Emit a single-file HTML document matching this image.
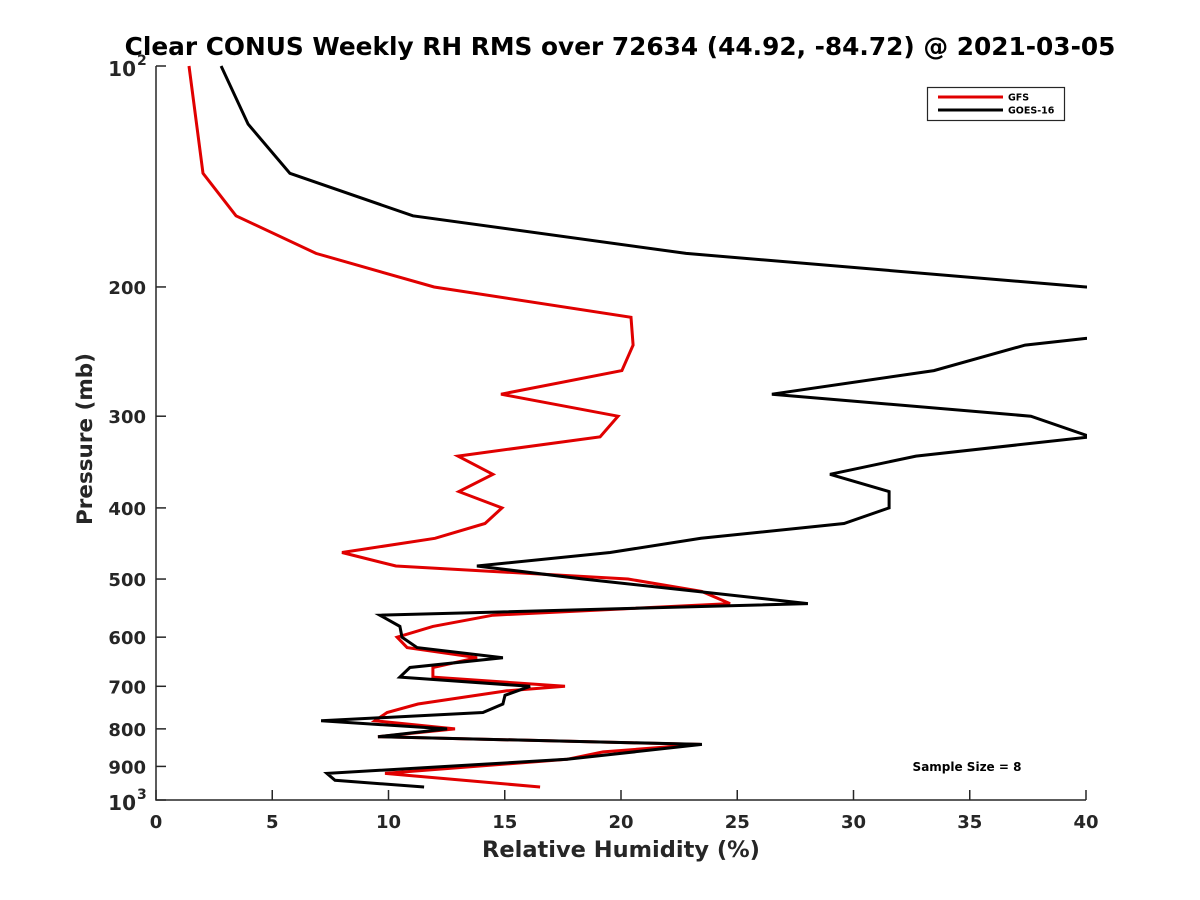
<!DOCTYPE html>
<html><head><meta charset="utf-8"><style>
body{margin:0;background:#fff}
svg{display:block;font-family:"DejaVu Sans","Liberation Sans",sans-serif;font-weight:bold}
</style></head><body>
<svg id="chart" width="1200" height="900" viewBox="0 0 1200 900">
<rect width="1200" height="900" fill="#fff"/>
<defs><clipPath id="plotclip"><rect x="156" y="60" width="931" height="742"/></clipPath></defs>
<text x="620" y="55" font-size="24.8" text-anchor="middle" fill="#000">Clear CONUS Weekly RH RMS over 72634 (44.92, -84.72) @ 2021-03-05</text>
<g id="axes"></g>
<g id="series" clip-path="url(#plotclip)"></g>
<text x="621" y="857" font-size="22.5" text-anchor="middle" fill="#262626">Relative Humidity (%)</text>
<text transform="translate(92,439) rotate(-90)" font-size="21.5" text-anchor="middle" fill="#262626">Pressure (mb)</text>
<g>
<rect x="927.5" y="87.5" width="137" height="33" fill="#fff" stroke="#262626" stroke-width="1.2"/>
<line x1="938" y1="97" x2="1003" y2="97" stroke="#e00000" stroke-width="3"/>
<text x="1008" y="100.5" font-size="9.5" fill="#000">GFS</text>
<line x1="938" y1="110" x2="1003" y2="110" stroke="#000" stroke-width="3"/>
<text x="1008" y="113.5" font-size="9.5" fill="#000">GOES-16</text>
</g>
<text x="967" y="771" font-size="12" text-anchor="middle" fill="#000">Sample Size = 8</text>
</svg>
<script>
const gfsPressure = [100,140,160,180,200,220,240,260,280,300,320,340,360,380,400,420,440,460,480,500,520,540,560,580,600,620,640,660,680,700,710,740,760,780,800,820,840,860,880,920,960];
const gfsRH = [1.42,2.02,3.44,6.88,11.96,20.43,20.52,20.04,14.84,19.87,19.1,12.99,14.49,13.03,14.88,14.15,12.0,8.0,10.32,20.3,23.48,24.69,14.49,11.91,10.37,10.8,13.81,11.91,11.91,17.59,15.1,11.27,9.94,9.42,12.86,9.55,23.4,19.23,17.68,9.85,16.52];
const goesPressure = [100,120,140,160,180,200,216,235,240,260,280,300,320,340,360,380,400,420,440,460,480,500,520,540,560,580,600,620,640,660,680,700,720,740,760,780,800,820,840,880,920,940,960];
const goesRH = [2.8,3.96,5.76,11.05,22.8,40,60,40,37.38,33.46,26.49,37.63,40.2,32.69,28.99,31.53,31.53,29.59,23.44,19.53,13.8,18.37,23.31,28.04,9.63,10.49,10.58,11.23,14.92,10.92,10.49,16.09,15.01,14.92,14.06,7.1,12.52,9.55,23.48,17.68,7.35,7.7,11.53];
const xTicks = [0,5,10,15,20,25,30,35,40];
const yTicks = [100,200,300,400,500,600,700,800,900,1000];
const yTickLabels = ["10^2","200","300","400","500","600","700","800","900","10^3"];

const X0=156,X1=1086,Y0=66,Y1=800;
const xs = v => X0 + (v/40)*(X1-X0);
const ys = p => Y0 + (Y1-Y0)*Math.log10(p/100);
const NS="http://www.w3.org/2000/svg";
const axes=document.getElementById('axes');
function mk(tag,attrs,parent){const e=document.createElementNS(NS,tag);for(const k in attrs)e.setAttribute(k,attrs[k]);parent.appendChild(e);return e;}
const ax=mk('path',{d:`M${X0},${Y0}V${Y1}H${X1}`,fill:'none',stroke:'#262626','stroke-width':1.5},axes);


xTicks.forEach(v=>{
  const t=mk('line',{x1:xs(v),x2:xs(v),y1:Y1,y2:Y1-10,stroke:'#262626','stroke-width':1.5},axes);
  
  
  const l=mk('text',{x:xs(v),y:Y1+28,'font-size':18,'text-anchor':'middle',fill:'#262626'},axes);
  l.textContent=String(v);
  
  
});
yTicks.forEach((p,i)=>{
  const t=mk('line',{x1:X0,x2:X0+10,y1:ys(p),y2:ys(p),stroke:'#262626','stroke-width':1.5},axes);
  
  
  const lab=yTickLabels[i];
  if(lab.indexOf('^')>=0){
    const parts=lab.split('^');
    const l=mk('text',{x:X0-20,y:ys(p)+10,'font-size':20,'text-anchor':'end',fill:'#262626'},axes);
    l.textContent=parts[0];
    
    
    const s=mk('text',{x:X0-19,y:ys(p)-1,'font-size':14,'text-anchor':'start',fill:'#262626'},axes);
    s.textContent=parts[1];
    
    
  } else {
    const l=mk('text',{x:X0-10,y:ys(p)+7,'font-size':18,'text-anchor':'end',fill:'#262626'},axes);
    l.textContent=lab;
    
    
  }
});
const series=document.getElementById('series');
function line(ps,vs,color,name){
  const d=ps.map((p,i)=>(i?'L':'M')+xs(vs[i]).toFixed(1)+','+ys(p).toFixed(1)).join('');
  const e=mk('path',{d:d,fill:'none',stroke:color,'stroke-width':3,'stroke-linejoin':'miter'},series);
  
  
}
line(gfsPressure,gfsRH,'#e00000','gfs-line');
line(goesPressure,goesRH,'#000','goes16-line');
</script>
</body></html>
